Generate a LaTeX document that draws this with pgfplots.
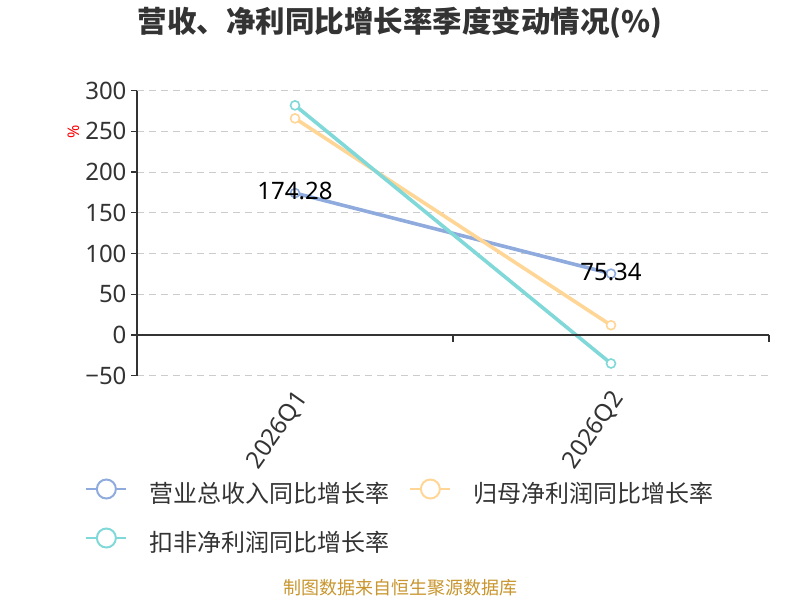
\documentclass[border=0pt]{standalone}
\usepackage{pgfplots}
\pgfplotsset{compat=1.18}
\usepackage{fontspec}
\setmainfont{Noto Sans}
\newfontfamily\cjk{Noto Sans CJK SC}
\definecolor{cblue}{HTML}{8FAADC}
\definecolor{corange}{HTML}{FFD696}
\definecolor{cteal}{HTML}{80D8D8}
\definecolor{axgray}{HTML}{333333}
\definecolor{gridgray}{HTML}{CCCCCC}
\definecolor{gold}{HTML}{C8952E}
\begin{document}
\begin{tikzpicture}
\useasboundingbox (0,0) rectangle (800pt,600pt);
\node[font=\cjk\bfseries\fontsize{29.5}{32}\selectfont, text=axgray] at (400pt,577pt) {营收、净利同比增长率季度变动情况(\%)};
\node[font=\cjk\fontsize{18}{20}\selectfont, text=gold] at (400pt,12pt) {制图数据来自恒生聚源数据库};
\node[font=\fontsize{16}{18}\selectfont, text=red, rotate=90] at (74pt,468pt) {\%};
\begin{axis}[
  at={(137pt,224.3pt)}, anchor=south west,
  scale only axis, width=632pt, height=285pt,
  xmin=-0.5, xmax=1.5, ymin=-50, ymax=300,
  axis y line*=left, axis x line*=bottom,
  x axis line style={draw=none},
  y axis line style={axgray, line width=1.3pt},
  xtick={0,1}, xticklabels={2026Q1,2026Q2},
  xtick style={draw=none},
  ytick={-50,0,50,100,150,200,250,300},
  yticklabels={−50,0,50,100,150,200,250,300},
  ytick style={axgray, line width=1.3pt},
  tick align=outside, major tick length=6pt,
  ymajorgrids, grid style={gridgray, dash pattern=on 7pt off 5pt, line width=1.2pt},
  /pgf/number format/assume math mode=true,
  ticklabel style={font=\fontsize{24}{26}\selectfont, text=axgray},
  yticklabel style={xshift=-1pt},
  xticklabel style={rotate=55, anchor=east, inner sep=0pt, yshift=-14pt, xshift=-6pt},
  clip=false,
  legend columns=2,
  legend cell align=left,
  legend style={at={(-0.082,-0.36)}, anchor=north west, draw=none, fill=none, inner sep=0pt,
    font=\cjk\fontsize{24}{26}\selectfont, text=axgray,
    nodes={inner xsep=0pt, inner ysep=0pt, text height=18pt, text depth=5pt},
    /tikz/row sep=20pt,
    /tikz/every odd column/.append style={column sep=22pt},
    /tikz/every even column/.append style={column sep=20pt}},
  legend image code/.code={
    \draw[#1, line width=2pt] (0pt,7pt) -- (40pt,7pt);
    \draw[#1, line width=2pt, fill=white] (20pt,7pt) circle (9.5pt);
  },
]
\addplot[cblue, line width=3.6pt, mark=*, mark size=4.5pt,
  mark options={fill=white, line width=1.6pt},
  nodes near coords, point meta=explicit,
  every node near coord/.style={anchor=center, yshift=2pt, text=black, font=\fontsize{24}{26}\selectfont,
    /pgf/number format/.cd, fixed, precision=2, assume math mode=true}]
  coordinates {(0,174.28) [174.28] (1,75.34) [75.34]};
\addlegendentry{营业总收入同比增长率}
\addplot[corange, line width=3.6pt, mark=*, mark size=4.5pt,
  mark options={fill=white, line width=1.6pt}]
  coordinates {(0,266) (1,12)};
\addlegendentry{归母净利润同比增长率}
\addplot[cteal, line width=3.6pt, mark=*, mark size=4.5pt,
  mark options={fill=white, line width=1.6pt}]
  coordinates {(0,282) (1,-35)};
\addlegendentry{扣非净利润同比增长率}
\draw[axgray, line width=1.3pt] (axis cs:-0.5,0) -- (axis cs:1.5,0);
\draw[axgray, line width=1.3pt] (axis cs:0.5,0) -- ([yshift=-7pt]axis cs:0.5,0);
\draw[axgray, line width=1.3pt] (axis cs:1.5,0) -- ([yshift=-7pt]axis cs:1.5,0);
\end{axis}
\end{tikzpicture}
\end{document}
